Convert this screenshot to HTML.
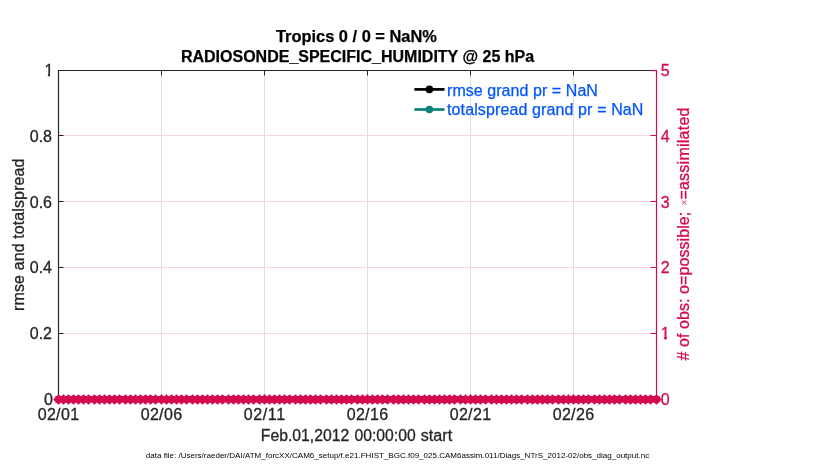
<!DOCTYPE html>
<html><head><meta charset="utf-8"><title>obs_diag</title>
<style>html,body{margin:0;padding:0;background:#fff;}svg{display:block;font-family:"Liberation Sans",Arial,Helvetica,sans-serif;}</style>
</head><body>
<svg width="830" height="470" viewBox="0 0 830 470">
<rect width="830" height="470" fill="#fff"/>
<defs><clipPath id="k1"><path d="M40 58H57V73.4H50.1V78H47.9V73.4H40Z"/></clipPath><clipPath id="k2"><path d="M658 321H673V336.4H667V341H664V336.4H658Z"/></clipPath></defs>
<line x1="161.5" y1="70.5" x2="161.5" y2="399.5" stroke="#DFDFDF" stroke-width="1"/>
<line x1="264.5" y1="70.5" x2="264.5" y2="399.5" stroke="#DFDFDF" stroke-width="1"/>
<line x1="367.5" y1="70.5" x2="367.5" y2="399.5" stroke="#DFDFDF" stroke-width="1"/>
<line x1="470.5" y1="70.5" x2="470.5" y2="399.5" stroke="#DFDFDF" stroke-width="1"/>
<line x1="573.5" y1="70.5" x2="573.5" y2="399.5" stroke="#DFDFDF" stroke-width="1"/>
<line x1="58.5" y1="333.5" x2="656.5" y2="333.5" stroke="#F9D4E0" stroke-width="1"/>
<line x1="58.5" y1="267.5" x2="656.5" y2="267.5" stroke="#F9D4E0" stroke-width="1"/>
<line x1="58.5" y1="201.5" x2="656.5" y2="201.5" stroke="#F9D4E0" stroke-width="1"/>
<line x1="58.5" y1="135.5" x2="656.5" y2="135.5" stroke="#F9D4E0" stroke-width="1"/>
<path d="M58.5 400.0V70.5H656.5" fill="none" stroke="#262626" stroke-width="1.2"/>
<line x1="58.5" y1="399.5" x2="656.5" y2="399.5" stroke="#262626" stroke-width="1.2"/>
<line x1="656.5" y1="69.9" x2="656.5" y2="400.0" stroke="#D6094F" stroke-width="1.2"/>
<line x1="161.5" y1="70.5" x2="161.5" y2="75.5" stroke="#262626"/>
<line x1="161.5" y1="399.5" x2="161.5" y2="394.5" stroke="#262626"/>
<line x1="264.5" y1="70.5" x2="264.5" y2="75.5" stroke="#262626"/>
<line x1="264.5" y1="399.5" x2="264.5" y2="394.5" stroke="#262626"/>
<line x1="367.5" y1="70.5" x2="367.5" y2="75.5" stroke="#262626"/>
<line x1="367.5" y1="399.5" x2="367.5" y2="394.5" stroke="#262626"/>
<line x1="470.5" y1="70.5" x2="470.5" y2="75.5" stroke="#262626"/>
<line x1="470.5" y1="399.5" x2="470.5" y2="394.5" stroke="#262626"/>
<line x1="573.5" y1="70.5" x2="573.5" y2="75.5" stroke="#262626"/>
<line x1="573.5" y1="399.5" x2="573.5" y2="394.5" stroke="#262626"/>
<line x1="58.5" y1="333.5" x2="63.5" y2="333.5" stroke="#3A0A1C"/>
<line x1="656.5" y1="333.5" x2="650.5" y2="333.5" stroke="#D6094F"/>
<line x1="58.5" y1="267.5" x2="63.5" y2="267.5" stroke="#3A0A1C"/>
<line x1="656.5" y1="267.5" x2="650.5" y2="267.5" stroke="#D6094F"/>
<line x1="58.5" y1="201.5" x2="63.5" y2="201.5" stroke="#3A0A1C"/>
<line x1="656.5" y1="201.5" x2="650.5" y2="201.5" stroke="#D6094F"/>
<line x1="58.5" y1="135.5" x2="63.5" y2="135.5" stroke="#3A0A1C"/>
<line x1="656.5" y1="135.5" x2="650.5" y2="135.5" stroke="#D6094F"/>
<line x1="656.5" y1="70.5" x2="650.3" y2="70.5" stroke="#D6094F" stroke-width="1.2"/>
<g font-size="16" fill="#262626" stroke="#262626" stroke-width="0.3" text-anchor="middle">
<text x="58.35" y="419.5" textLength="41.4">02/01</text>
<text x="161.35" y="419.5" textLength="41.4">02/06</text>
<text x="264.35" y="419.5" textLength="41.4">02/11</text>
<text x="367.35" y="419.5" textLength="41.4">02/16</text>
<text x="470.35" y="419.5" textLength="41.4">02/21</text>
<text x="573.35" y="419.5" textLength="41.4">02/26</text>
</g>
<g font-size="16" fill="#262626" stroke="#262626" stroke-width="0.3" text-anchor="end">
<text x="52.9" y="405">0</text>
<text x="52" y="339">0.2</text>
<text x="52" y="273">0.4</text>
<text x="52" y="208">0.6</text>
<text x="52" y="142">0.8</text>
<text x="53.5" y="76" clip-path="url(#k1)">1</text>
</g>
<g font-size="16" fill="#D6094F" stroke="#D6094F" stroke-width="0.3">
<text x="660.7" y="405">0</text>
<text x="660.7" y="339" clip-path="url(#k2)">1</text>
<text x="660.7" y="273">2</text>
<text x="660.7" y="208">3</text>
<text x="660.7" y="142">4</text>
<text x="660.7" y="76">5</text>
</g>
<g font-size="16" font-weight="bold" fill="#000" stroke="#000" stroke-width="0.25" text-anchor="middle">
<text x="356.4" y="41.8" textLength="161" lengthAdjust="spacingAndGlyphs">Tropics 0 / 0 = NaN%</text>
<text x="357.5" y="61.8">RADIOSONDE_SPECIFIC_HUMIDITY @ 25 hPa</text>
</g>
<text y="440.7" font-size="16" fill="#262626" stroke="#262626" stroke-width="0.3"><tspan x="260.83" textLength="88.41" lengthAdjust="spacingAndGlyphs">Feb.01,2012</tspan> <tspan x="354.53" textLength="61.14" lengthAdjust="spacingAndGlyphs">00:00:00</tspan> <tspan x="420.72" textLength="31.44" lengthAdjust="spacingAndGlyphs">start</tspan></text>
<text transform="translate(23.7 310.9) rotate(-90)" font-size="16" fill="#262626" stroke="#262626" stroke-width="0.3" textLength="152.4">rmse and totalspread</text>
<text transform="translate(688.7 360.5) rotate(-90)" font-size="16" fill="#D6094F" stroke="#D6094F" stroke-width="0.3"><tspan textLength="148.8"># of obs: o=possible;</tspan><tspan x="157.9" dy="-0.9" font-size="10" text-anchor="middle" stroke="none" fill="#DE3C74">×</tspan><tspan x="160.9" dy="0.9" textLength="92.1">=assimilated</tspan></text>
<text x="145.8" y="457.9" font-size="8" fill="#000" textLength="503.4" lengthAdjust="spacing">data file: /Users/raeder/DAI/ATM_forcXX/CAM6_setup/f.e21.FHIST_BGC.f09_025.CAM6assim.011/Diags_NTrS_2012-02/obs_diag_output.nc</text>
<line x1="414.4" y1="89.4" x2="444.5" y2="89.4" stroke="#000" stroke-width="2.7"/><circle cx="429.4" cy="89.4" r="3.8" fill="#000"/>
<line x1="414.4" y1="109.5" x2="444.5" y2="109.5" stroke="#07827C" stroke-width="2.7"/><circle cx="429.4" cy="109.45" r="3.75" fill="#07827C"/>
<text x="447" y="95.6" font-size="16" fill="#0055FF" stroke="#0055FF" stroke-width="0.25" textLength="150.9">rmse grand pr = NaN</text>
<text x="447" y="115" font-size="16" fill="#0055FF" stroke="#0055FF" stroke-width="0.25" textLength="196.4">totalspread grand pr = NaN</text>
<g fill="#D6094F" stroke="#D6094F" stroke-width="1.3">
<path stroke="none" d="M53.20 399.5L58.50 394.20L63.80 399.5L58.50 404.80ZM58.20 399.5L63.50 394.20L68.80 399.5L63.50 404.80ZM63.20 399.5L68.50 394.20L73.80 399.5L68.50 404.80ZM68.20 399.5L73.50 394.20L78.80 399.5L73.50 404.80ZM73.20 399.5L78.50 394.20L83.80 399.5L78.50 404.80ZM78.20 399.5L83.50 394.20L88.80 399.5L83.50 404.80ZM83.20 399.5L88.50 394.20L93.80 399.5L88.50 404.80ZM89.20 399.5L94.50 394.20L99.80 399.5L94.50 404.80ZM94.20 399.5L99.50 394.20L104.80 399.5L99.50 404.80ZM99.20 399.5L104.50 394.20L109.80 399.5L104.50 404.80ZM104.20 399.5L109.50 394.20L114.80 399.5L109.50 404.80ZM109.20 399.5L114.50 394.20L119.80 399.5L114.50 404.80ZM114.20 399.5L119.50 394.20L124.80 399.5L119.50 404.80ZM120.20 399.5L125.50 394.20L130.80 399.5L125.50 404.80ZM125.20 399.5L130.50 394.20L135.80 399.5L130.50 404.80ZM130.20 399.5L135.50 394.20L140.80 399.5L135.50 404.80ZM135.20 399.5L140.50 394.20L145.80 399.5L140.50 404.80ZM140.20 399.5L145.50 394.20L150.80 399.5L145.50 404.80ZM145.20 399.5L150.50 394.20L155.80 399.5L150.50 404.80ZM150.20 399.5L155.50 394.20L160.80 399.5L155.50 404.80ZM156.20 399.5L161.50 394.20L166.80 399.5L161.50 404.80ZM161.20 399.5L166.50 394.20L171.80 399.5L166.50 404.80ZM166.20 399.5L171.50 394.20L176.80 399.5L171.50 404.80ZM171.20 399.5L176.50 394.20L181.80 399.5L176.50 404.80ZM176.20 399.5L181.50 394.20L186.80 399.5L181.50 404.80ZM181.20 399.5L186.50 394.20L191.80 399.5L186.50 404.80ZM187.20 399.5L192.50 394.20L197.80 399.5L192.50 404.80ZM192.20 399.5L197.50 394.20L202.80 399.5L197.50 404.80ZM197.20 399.5L202.50 394.20L207.80 399.5L202.50 404.80ZM202.20 399.5L207.50 394.20L212.80 399.5L207.50 404.80ZM207.20 399.5L212.50 394.20L217.80 399.5L212.50 404.80ZM212.20 399.5L217.50 394.20L222.80 399.5L217.50 404.80ZM217.20 399.5L222.50 394.20L227.80 399.5L222.50 404.80ZM223.20 399.5L228.50 394.20L233.80 399.5L228.50 404.80ZM228.20 399.5L233.50 394.20L238.80 399.5L233.50 404.80ZM233.20 399.5L238.50 394.20L243.80 399.5L238.50 404.80ZM238.20 399.5L243.50 394.20L248.80 399.5L243.50 404.80ZM243.20 399.5L248.50 394.20L253.80 399.5L248.50 404.80ZM248.20 399.5L253.50 394.20L258.80 399.5L253.50 404.80ZM254.20 399.5L259.50 394.20L264.80 399.5L259.50 404.80ZM259.20 399.5L264.50 394.20L269.80 399.5L264.50 404.80ZM264.20 399.5L269.50 394.20L274.80 399.5L269.50 404.80ZM269.20 399.5L274.50 394.20L279.80 399.5L274.50 404.80ZM274.20 399.5L279.50 394.20L284.80 399.5L279.50 404.80ZM279.20 399.5L284.50 394.20L289.80 399.5L284.50 404.80ZM284.20 399.5L289.50 394.20L294.80 399.5L289.50 404.80ZM290.20 399.5L295.50 394.20L300.80 399.5L295.50 404.80ZM295.20 399.5L300.50 394.20L305.80 399.5L300.50 404.80ZM300.20 399.5L305.50 394.20L310.80 399.5L305.50 404.80ZM305.20 399.5L310.50 394.20L315.80 399.5L310.50 404.80ZM310.20 399.5L315.50 394.20L320.80 399.5L315.50 404.80ZM315.20 399.5L320.50 394.20L325.80 399.5L320.50 404.80ZM321.20 399.5L326.50 394.20L331.80 399.5L326.50 404.80ZM326.20 399.5L331.50 394.20L336.80 399.5L331.50 404.80ZM331.20 399.5L336.50 394.20L341.80 399.5L336.50 404.80ZM336.20 399.5L341.50 394.20L346.80 399.5L341.50 404.80ZM341.20 399.5L346.50 394.20L351.80 399.5L346.50 404.80ZM346.20 399.5L351.50 394.20L356.80 399.5L351.50 404.80ZM352.20 399.5L357.50 394.20L362.80 399.5L357.50 404.80ZM357.20 399.5L362.50 394.20L367.80 399.5L362.50 404.80ZM362.20 399.5L367.50 394.20L372.80 399.5L367.50 404.80ZM367.20 399.5L372.50 394.20L377.80 399.5L372.50 404.80ZM372.20 399.5L377.50 394.20L382.80 399.5L377.50 404.80ZM377.20 399.5L382.50 394.20L387.80 399.5L382.50 404.80ZM382.20 399.5L387.50 394.20L392.80 399.5L387.50 404.80ZM388.20 399.5L393.50 394.20L398.80 399.5L393.50 404.80ZM393.20 399.5L398.50 394.20L403.80 399.5L398.50 404.80ZM398.20 399.5L403.50 394.20L408.80 399.5L403.50 404.80ZM403.20 399.5L408.50 394.20L413.80 399.5L408.50 404.80ZM408.20 399.5L413.50 394.20L418.80 399.5L413.50 404.80ZM413.20 399.5L418.50 394.20L423.80 399.5L418.50 404.80ZM419.20 399.5L424.50 394.20L429.80 399.5L424.50 404.80ZM424.20 399.5L429.50 394.20L434.80 399.5L429.50 404.80ZM429.20 399.5L434.50 394.20L439.80 399.5L434.50 404.80ZM434.20 399.5L439.50 394.20L444.80 399.5L439.50 404.80ZM439.20 399.5L444.50 394.20L449.80 399.5L444.50 404.80ZM444.20 399.5L449.50 394.20L454.80 399.5L449.50 404.80ZM449.20 399.5L454.50 394.20L459.80 399.5L454.50 404.80ZM455.20 399.5L460.50 394.20L465.80 399.5L460.50 404.80ZM460.20 399.5L465.50 394.20L470.80 399.5L465.50 404.80ZM465.20 399.5L470.50 394.20L475.80 399.5L470.50 404.80ZM470.20 399.5L475.50 394.20L480.80 399.5L475.50 404.80ZM475.20 399.5L480.50 394.20L485.80 399.5L480.50 404.80ZM480.20 399.5L485.50 394.20L490.80 399.5L485.50 404.80ZM486.20 399.5L491.50 394.20L496.80 399.5L491.50 404.80ZM491.20 399.5L496.50 394.20L501.80 399.5L496.50 404.80ZM496.20 399.5L501.50 394.20L506.80 399.5L501.50 404.80ZM501.20 399.5L506.50 394.20L511.80 399.5L506.50 404.80ZM506.20 399.5L511.50 394.20L516.80 399.5L511.50 404.80ZM511.20 399.5L516.50 394.20L521.80 399.5L516.50 404.80ZM516.20 399.5L521.50 394.20L526.80 399.5L521.50 404.80ZM522.20 399.5L527.50 394.20L532.80 399.5L527.50 404.80ZM527.20 399.5L532.50 394.20L537.80 399.5L532.50 404.80ZM532.20 399.5L537.50 394.20L542.80 399.5L537.50 404.80ZM537.20 399.5L542.50 394.20L547.80 399.5L542.50 404.80ZM542.20 399.5L547.50 394.20L552.80 399.5L547.50 404.80ZM547.20 399.5L552.50 394.20L557.80 399.5L552.50 404.80ZM553.20 399.5L558.50 394.20L563.80 399.5L558.50 404.80ZM558.20 399.5L563.50 394.20L568.80 399.5L563.50 404.80ZM563.20 399.5L568.50 394.20L573.80 399.5L568.50 404.80ZM568.20 399.5L573.50 394.20L578.80 399.5L573.50 404.80ZM573.20 399.5L578.50 394.20L583.80 399.5L578.50 404.80ZM578.20 399.5L583.50 394.20L588.80 399.5L583.50 404.80ZM583.20 399.5L588.50 394.20L593.80 399.5L588.50 404.80ZM589.20 399.5L594.50 394.20L599.80 399.5L594.50 404.80ZM594.20 399.5L599.50 394.20L604.80 399.5L599.50 404.80ZM599.20 399.5L604.50 394.20L609.80 399.5L604.50 404.80ZM604.20 399.5L609.50 394.20L614.80 399.5L609.50 404.80ZM609.20 399.5L614.50 394.20L619.80 399.5L614.50 404.80ZM614.20 399.5L619.50 394.20L624.80 399.5L619.50 404.80ZM620.20 399.5L625.50 394.20L630.80 399.5L625.50 404.80ZM625.20 399.5L630.50 394.20L635.80 399.5L630.50 404.80ZM630.20 399.5L635.50 394.20L640.80 399.5L635.50 404.80ZM635.20 399.5L640.50 394.20L645.80 399.5L640.50 404.80ZM640.20 399.5L645.50 394.20L650.80 399.5L645.50 404.80ZM645.20 399.5L650.50 394.20L655.80 399.5L650.50 404.80ZM651.20 399.5L656.50 394.20L661.80 399.5L656.50 404.80Z"/>
<path stroke="none" d="M55.40 396H61.60V402.5H55.40ZM60.40 396H66.60V402.5H60.40ZM65.40 396H71.60V402.5H65.40ZM70.40 396H76.60V402.5H70.40ZM75.40 396H81.60V402.5H75.40ZM80.40 396H86.60V402.5H80.40ZM85.40 396H91.60V402.5H85.40ZM91.40 396H97.60V402.5H91.40ZM96.40 396H102.60V402.5H96.40ZM101.40 396H107.60V402.5H101.40ZM106.40 396H112.60V402.5H106.40ZM111.40 396H117.60V402.5H111.40ZM116.40 396H122.60V402.5H116.40ZM122.40 396H128.60V402.5H122.40ZM127.40 396H133.60V402.5H127.40ZM132.40 396H138.60V402.5H132.40ZM137.40 396H143.60V402.5H137.40ZM142.40 396H148.60V402.5H142.40ZM147.40 396H153.60V402.5H147.40ZM152.40 396H158.60V402.5H152.40ZM158.40 396H164.60V402.5H158.40ZM163.40 396H169.60V402.5H163.40ZM168.40 396H174.60V402.5H168.40ZM173.40 396H179.60V402.5H173.40ZM178.40 396H184.60V402.5H178.40ZM183.40 396H189.60V402.5H183.40ZM189.40 396H195.60V402.5H189.40ZM194.40 396H200.60V402.5H194.40ZM199.40 396H205.60V402.5H199.40ZM204.40 396H210.60V402.5H204.40ZM209.40 396H215.60V402.5H209.40ZM214.40 396H220.60V402.5H214.40ZM219.40 396H225.60V402.5H219.40ZM225.40 396H231.60V402.5H225.40ZM230.40 396H236.60V402.5H230.40ZM235.40 396H241.60V402.5H235.40ZM240.40 396H246.60V402.5H240.40ZM245.40 396H251.60V402.5H245.40ZM250.40 396H256.60V402.5H250.40ZM256.40 396H262.60V402.5H256.40ZM261.40 396H267.60V402.5H261.40ZM266.40 396H272.60V402.5H266.40ZM271.40 396H277.60V402.5H271.40ZM276.40 396H282.60V402.5H276.40ZM281.40 396H287.60V402.5H281.40ZM286.40 396H292.60V402.5H286.40ZM292.40 396H298.60V402.5H292.40ZM297.40 396H303.60V402.5H297.40ZM302.40 396H308.60V402.5H302.40ZM307.40 396H313.60V402.5H307.40ZM312.40 396H318.60V402.5H312.40ZM317.40 396H323.60V402.5H317.40ZM323.40 396H329.60V402.5H323.40ZM328.40 396H334.60V402.5H328.40ZM333.40 396H339.60V402.5H333.40ZM338.40 396H344.60V402.5H338.40ZM343.40 396H349.60V402.5H343.40ZM348.40 396H354.60V402.5H348.40ZM354.40 396H360.60V402.5H354.40ZM359.40 396H365.60V402.5H359.40ZM364.40 396H370.60V402.5H364.40ZM369.40 396H375.60V402.5H369.40ZM374.40 396H380.60V402.5H374.40ZM379.40 396H385.60V402.5H379.40ZM384.40 396H390.60V402.5H384.40ZM390.40 396H396.60V402.5H390.40ZM395.40 396H401.60V402.5H395.40ZM400.40 396H406.60V402.5H400.40ZM405.40 396H411.60V402.5H405.40ZM410.40 396H416.60V402.5H410.40ZM415.40 396H421.60V402.5H415.40ZM421.40 396H427.60V402.5H421.40ZM426.40 396H432.60V402.5H426.40ZM431.40 396H437.60V402.5H431.40ZM436.40 396H442.60V402.5H436.40ZM441.40 396H447.60V402.5H441.40ZM446.40 396H452.60V402.5H446.40ZM451.40 396H457.60V402.5H451.40ZM457.40 396H463.60V402.5H457.40ZM462.40 396H468.60V402.5H462.40ZM467.40 396H473.60V402.5H467.40ZM472.40 396H478.60V402.5H472.40ZM477.40 396H483.60V402.5H477.40ZM482.40 396H488.60V402.5H482.40ZM488.40 396H494.60V402.5H488.40ZM493.40 396H499.60V402.5H493.40ZM498.40 396H504.60V402.5H498.40ZM503.40 396H509.60V402.5H503.40ZM508.40 396H514.60V402.5H508.40ZM513.40 396H519.60V402.5H513.40ZM518.40 396H524.60V402.5H518.40ZM524.40 396H530.60V402.5H524.40ZM529.40 396H535.60V402.5H529.40ZM534.40 396H540.60V402.5H534.40ZM539.40 396H545.60V402.5H539.40ZM544.40 396H550.60V402.5H544.40ZM549.40 396H555.60V402.5H549.40ZM555.40 396H561.60V402.5H555.40ZM560.40 396H566.60V402.5H560.40ZM565.40 396H571.60V402.5H565.40ZM570.40 396H576.60V402.5H570.40ZM575.40 396H581.60V402.5H575.40ZM580.40 396H586.60V402.5H580.40ZM585.40 396H591.60V402.5H585.40ZM591.40 396H597.60V402.5H591.40ZM596.40 396H602.60V402.5H596.40ZM601.40 396H607.60V402.5H601.40ZM606.40 396H612.60V402.5H606.40ZM611.40 396H617.60V402.5H611.40ZM616.40 396H622.60V402.5H616.40ZM622.40 396H628.60V402.5H622.40ZM627.40 396H633.60V402.5H627.40ZM632.40 396H638.60V402.5H632.40ZM637.40 396H643.60V402.5H637.40ZM642.40 396H648.60V402.5H642.40ZM647.40 396H653.60V402.5H647.40ZM653.40 396H659.60V402.5H653.40Z"/>
</g>
</svg></body></html>
